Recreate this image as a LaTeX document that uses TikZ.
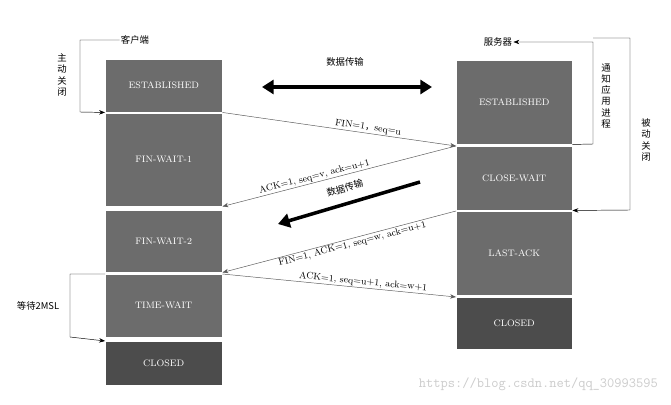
\documentclass[tikz,border=0pt]{standalone}
\usepackage{fontspec}
\newfontfamily\cjkfont{Noto Sans CJK SC}
\usetikzlibrary{arrows.meta}
\tikzset{
  state/.style={draw=white,fill=gray!85!black,text=white,font=\footnotesize,inner sep=0pt,anchor=north west},
  closedstate/.style={state,fill=gray!60!black},
  msg/.style={-{Stealth[length=5pt]},gray!70!black,thin},
  loopline/.style={-{Stealth[length=5pt]},thin},
  lbl/.style={font=\footnotesize,inner sep=1pt,text=black},
  cjk/.style={font=\cjkfont\footnotesize},
  bigarrow/.style={line width=3pt,-{Triangle[length=10pt,width=12pt]}},
}
\newcommand{\stbox}[6]{\node[#1,minimum width=#4*0.03cm,minimum height=#5*0.03cm] (#2) at (#3) {#6};}
\begin{document}
\begin{tikzpicture}[x=0.03cm,y=-0.03cm]
  \useasboundingbox[fill=white] (0,0) rectangle (671,405);
  % client column
  \stbox{state}{cest}{105,59}{117}{53}{ESTABLISHED}
  \stbox{state}{cfw1}{105,113}{117}{93}{FIN-WAIT-1}
  \stbox{state}{cfw2}{105,210}{117}{62}{FIN-WAIT-2}
  \stbox{state}{ctw}{105,274}{117}{63}{TIME-WAIT}
  \stbox{closedstate}{ccl}{105,341}{117}{44}{CLOSED}
  % server column
  \stbox{state}{sest}{456,60}{116}{84}{ESTABLISHED}
  \stbox{state}{scw}{456,146}{116}{64}{CLOSE-WAIT}
  \stbox{state}{sla}{456,211}{116}{84}{LAST-ACK}
  \stbox{closedstate}{scl}{456,297}{116}{52}{CLOSED}

  \node[lbl,cjk] (client) at (135,40) {客户端};
  \node[lbl,cjk] (server) at (498,42) {服务器};

  % messages
  \draw[msg] (cest.south east) -- node[lbl,above,sloped,pos=0.62] {FIN=1{\cjkfont ，}seq=u} (scw.north west);
  \draw[msg] (scw.north west) -- node[lbl,above,sloped,pos=0.6] {ACK=1, seq=v, ack=u+1} (cfw1.south east);
  \draw[msg] (sla.north west) -- node[lbl,below,sloped,pos=0.45] {FIN=1, ACK=1, seq=w, ack=u+1} (cfw2.south east);
  \draw[msg] (ctw.north east) -- node[lbl,above,sloped,pos=0.6] {ACK=1, seq=u+1, ack=w+1} (scl.north west);

  % data transfer
  \coordinate (dl) at (262,87);
  \coordinate (dr) at (432,87);
  \draw[bigarrow,{Triangle[length=10pt,width=12pt]}-{Triangle[length=10pt,width=12pt]}] (dl) -- (dr);
  \node[lbl,cjk] (data1) at (345,62) {数据传输};
  \coordinate (ds) at (420,182);
  \coordinate (de) at (278,224);
  \draw[bigarrow] (ds) -- (de);
  \node[lbl,cjk,rotate=16] (data2) at (345,188) {数据传输};

  % active close
  \coordinate (a1) at (80,40);
  \coordinate (a2) at (80,112);
  \draw[loopline] (client.west) -- (a1) -- (a2) -- (cest.south west);
  \node[lbl,cjk,align=center] (active) at (62,75) {主\\动\\关\\闭};
  % notify
  \coordinate (n1) at (593,144);
  \coordinate (n2) at (593,42);
  \draw[loopline] (sest.south east) -- (n1) -- (n2) -- (server.east);
  \node[lbl,cjk,align=center] (notify) at (606,96) {通\\知\\应\\用\\进\\程};
  % passive close
  \coordinate (p1) at (593,38);
  \coordinate (p2) at (630,38);
  \coordinate (p3) at (630,210);
  \draw[loopline] (p1) -- (p2) -- (p3) -- (scw.south east);
  \node[lbl,cjk,align=center] (passive) at (646,140) {被\\动\\关\\闭};
  % 2MSL
  \coordinate (w1) at (70,274);
  \coordinate (w2) at (70,337);
  \draw[loopline] (ctw.north west) -- (w1) -- (w2) -- (ccl.north west);
  \node[lbl,cjk] (wait) at (38,306) {等待2MSL};

  \node[font=\ttfamily\large,gray!40,anchor=east] (mark) at (662,384) {https://blog.csdn.net/qq\_30993595};
\end{tikzpicture}
\end{document}
